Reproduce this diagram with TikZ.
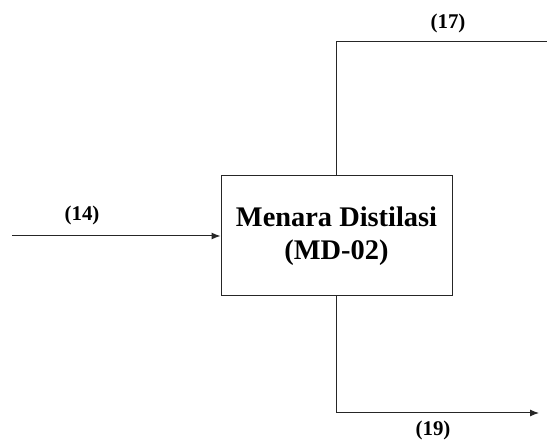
\documentclass[tikz,border=0pt]{standalone}
\usepackage{fontspec}
\setmainfont{Liberation Serif}
\usetikzlibrary{arrows.meta}
\begin{document}
\begin{tikzpicture}[x=1bp,y=1bp,
  line/.style={draw=black!85, line width=1bp},
  arr/.style={line, -{Latex[length=9bp,width=7bp]}},
  lbl/.style={font=\bfseries\fontsize{21}{24}\selectfont, inner sep=0},
  unit/.style={draw=black!85, line width=1bp, minimum width=231bp, minimum height=120bp, align=center, font=\bfseries\fontsize{28.5}{33}\selectfont, inner sep=0}]
\useasboundingbox (0,0) rectangle (547,441);
\node[unit] (md) at (336.5,205) {Menara Distilasi\\(MD-02)};
\coordinate (in) at (12,205);
\coordinate (topc) at (336.5,399.3);
\coordinate (topend) at (547,399.3);
\coordinate (botc) at (336.5,28);
\coordinate (botend) at (539,28);
\draw[arr] (in) -- (md.west);
\draw[line] (md.north) -- (topc) -- (topend);
\draw[arr] (md.south) -- (botc) -- (botend);
\node[lbl] (l14) at (82,226) {(14)};
\node[lbl] (l17) at (448,418) {(17)};
\node[lbl] (l19) at (433,11) {(19)};
\end{tikzpicture}
\end{document}
